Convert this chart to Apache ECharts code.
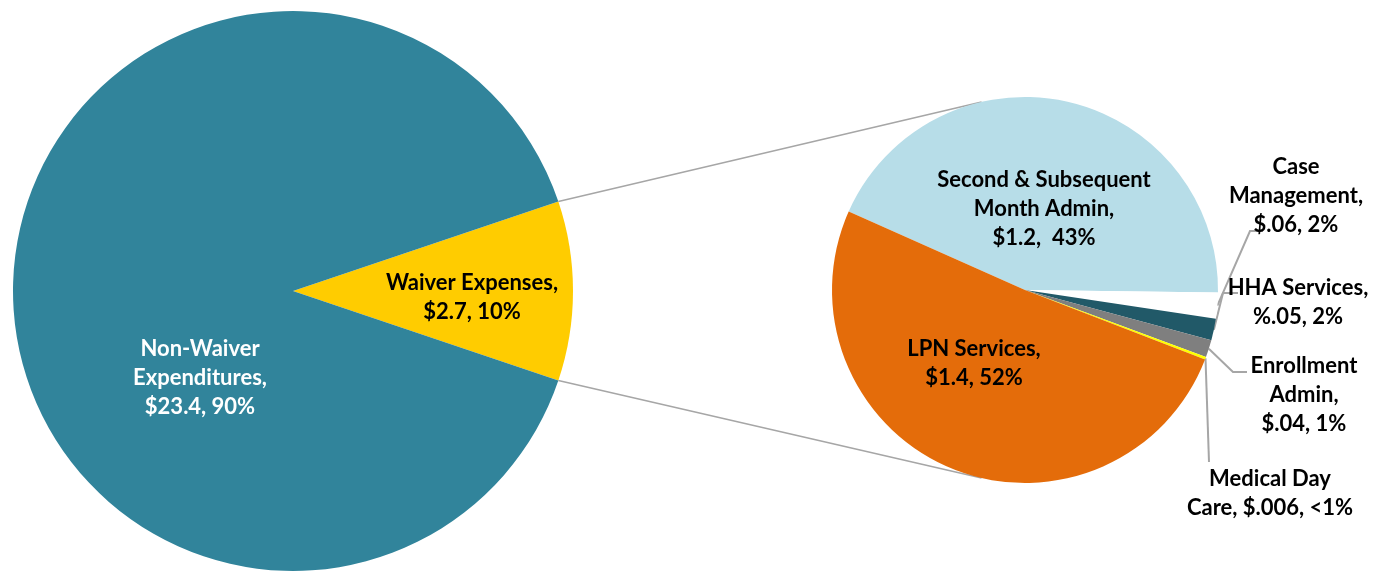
<!DOCTYPE html>
<html>
<head>
<meta charset="utf-8">
<title>Waiver expenses pie of pie</title>
<script src="https://cdn.jsdelivr.net/npm/echarts@6/dist/echarts.min.js"></script>
<style>
  html, body { margin: 0; padding: 0; background: #fff; }
  #chart { width: 1382px; height: 572px; }
</style>
</head>
<body>
<div id="chart"></div>
<script>
// main pie
var mainNames = ['Waiver Expenses', 'Non-Waiver Expenditures']
var mainValues = [2.7, 23.4]
var mainLabels = ['Waiver Expenses,\n$2.7, 10%', 'Non-Waiver\nExpenditures,\n$23.4, 90%']

// breakdown of waiver expenses
var subNames = ['Second & Subsequent Month Admin', 'Case Management', 'HHA Services', 'Enrollment Admin', 'Medical Day Care', 'LPN Services']
var subValues = [1.2, 0.06, 0.05, 0.04, 0.006, 1.4]
var subLabels = [
  'Second & Subsequent\nMonth Admin,\n$1.2,  43%',
  'Case\nManagement,\n$.06, 2%',
  'HHA Services,\n%.05, 2%',
  'Enrollment\nAdmin,\n$.04, 1%',
  'Medical Day\nCare, $.006, <1%',
  'LPN Services,\n$1.4, 52%'
]

var mainColors = ['#ffcc00', '#31849b']
var subColors = ['#b7dde8', '#ffffff', '#215968', '#7f7f7f', '#ffff00', '#e46c0a']

var LEFT = { cx: 293, cy: 291, r: 280 }
var RIGHT = { cx: 1025, cy: 290, r: 193 }

// where each label block sits (center of block), plus leader-line bends
var mainLabelPos = [[472, 297], [200, 378]]
var subLabelPos = [[1044, 209], [1296, 196], [1298, 302], [1304, 395], [1270, 493], [974, 363]]
var subLeaderBends = [null, [[1250, 231], [1263, 231]], [[1223, 293], [1238, 293]], [[1233, 372], [1247, 372]], [[1209, 462]], null]

var chart = echarts.init(document.getElementById('chart'))

var mainSum = mainValues[0] + mainValues[1]
var half = 180 * mainValues[0] / mainSum
var rad = Math.PI / 180

function ptOn(c, deg) {
  return [c.cx + c.r * Math.cos(deg * rad), c.cy - c.r * Math.sin(deg * rad)]
}

var textBase = {
  fontFamily: 'Lato',
  fontWeight: 'bold',
  fontSize: 22,
  lineHeight: 29,
  color: '#000',
  align: 'center'
}

var mainData = mainNames.map(function(n, i) {
  return {
    name: n,
    value: mainValues[i],
    itemStyle: { color: mainColors[i] },
    label: { color: i === 1 ? '#fff' : '#000' }
  }
})

var subData = subNames.map(function(n, i) {
  var outside = subLeaderBends[i] !== null
  return {
    name: n,
    value: subValues[i],
    itemStyle: { color: subColors[i] },
    label: { position: outside ? 'outside' : 'inside' },
    labelLine: { show: outside }
  }
})

var p1 = ptOn(LEFT, half)
var p2 = ptOn(LEFT, -half)
var q1 = ptOn(RIGHT, 103)
var q2 = ptOn(RIGHT, -103)

chart.setOption({
  backgroundColor: '#fff',
  animation: false,
  graphic: [
    { type: 'line', z: 0, shape: { x1: p1[0], y1: p1[1], x2: q1[0], y2: q1[1] }, style: { stroke: '#a6a6a6', lineWidth: 1.5 } },
    { type: 'line', z: 0, shape: { x1: p2[0], y1: p2[1], x2: q2[0], y2: q2[1] }, style: { stroke: '#a6a6a6', lineWidth: 1.5 } }
  ],
  series: [
    {
      type: 'pie',
      center: [LEFT.cx, LEFT.cy],
      radius: LEFT.r,
      startAngle: half,
      clockwise: true,
      avoidLabelOverlap: false,
      silent: true,
      itemStyle: { borderWidth: 0 },
      label: Object.assign({ position: 'inside', formatter: function(p) { return mainLabels[p.dataIndex] } }, textBase),
      labelLine: { show: false },
      labelLayout: function(p) {
        var pos = mainLabelPos[p.dataIndex]
        return { x: pos[0], y: pos[1], align: 'center', verticalAlign: 'middle' }
      },
      data: mainData
    },
    {
      type: 'pie',
      center: [RIGHT.cx, RIGHT.cy],
      radius: RIGHT.r,
      startAngle: 156,
      clockwise: true,
      avoidLabelOverlap: false,
      silent: true,
      itemStyle: { borderWidth: 0 },
      label: Object.assign({ formatter: function(p) { return subLabels[p.dataIndex] } }, textBase),
      labelLine: { lineStyle: { color: '#a6a6a6', width: 2 } },
      labelLayout: function(p) {
        var i = p.dataIndex
        var pos = subLabelPos[i]
        var res = { x: pos[0], y: pos[1], align: 'center', verticalAlign: 'middle' }
        var bends = subLeaderBends[i]
        if (bends && p.labelLinePoints) {
          var start = p.labelLinePoints[0]
          var pts = [[start[0], start[1]]].concat(bends)
          if (pts.length === 2) pts.push(bends[0])
          res.labelLinePoints = pts
        }
        return res
      },
      data: subData
    }
  ]
})
</script>
</body>
</html>
